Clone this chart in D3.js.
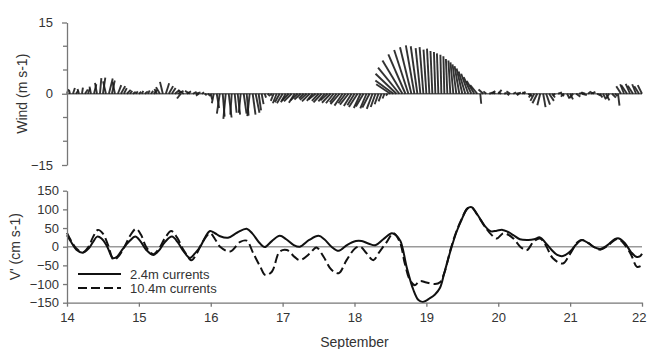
<!DOCTYPE html>
<html>
<head>
<meta charset="utf-8">
<script src="https://cdn.jsdelivr.net/npm/d3@7"></script>
<style>
  html, body { margin: 0; padding: 0; background: #fff; }
  svg { display: block; font-family: "Liberation Sans", Arial, sans-serif; }
  .axis text { fill: #333; font-size: 13px; }
  .axis path, .axis line { stroke: #777; stroke-width: 1.3; }
</style>
</head>
<body>
<svg id="chart" width="647" height="349"></svg>
<script>
// Hourly wind vectors (m/s) from 14 Sep 00:00 to 22 Sep 00:00
const windStart = 14;
const windStepDays = 1 / 24;
const windU = [
  0.3, -0.2, 0.4, 0.5, -0.3, 0.2, 0.6, 0.4, -0.3, 0.5, -0.4, 0.3,
  0.5, -0.6, 0.8, 0.6, -0.5, 0.7, 0.9, 0.6, 0.8, 0.5, 0.6, 0.4,
  0.5, 0.3, 0.6, 0.4, 0.5, 0.7, -0.5, -0.8, -0.6, 0.7, 0.9, 0.8,
  1.0, 1.2, -0.8, -1.2, 0.9, -1.0, 0.8, 1.0, -0.6, 0.5, 0.4, 0.6,
  0.3, -0.4, 0.5, -0.6, 0.4, -0.5, 0.6, -0.3, 0.4, 0.5, -0.4, 0.6,
  0.4, -0.5, 0.6, 0.8, 0.5, 0.4, 0.3, 0.5, 0.2, -0.6, -0.8, -1.0,
  -1.2, -1.0, -1.4, -1.6, -1.2, -1.5, -1.3, -1.0, -1.4, -1.6, -1.2, -1.5,
  -1.4, -1.7, -1.3, -1.5, -1.8, -1.6, -1.4, -1.9, -1.7, -1.5, -1.8, -1.6,
  -1.5, -1.8, -1.4, -1.6, -1.3, -1.5, -1.2, -1.0, -0.8, -0.6, -0.4, -0.3,
  -3.0, -3.8, -4.4, -4.5, -4.2, -3.6, -3.0, -2.4, -1.8, -1.4, -1.0, -0.8,
  -0.6, -0.5, -0.4, -0.3, -0.3, -0.2, -0.2, -0.3, -0.4, -0.6, -0.8, -1.0,
  -1.2, -1.4, -1.5, -1.6, -1.6, -1.5, 0.2, -1.0, -0.6, 0.8, 0.6, -0.5,
  0.7, -0.6, 0.5, 0.4, -0.8, 0.6, 1.0, -0.5, 0.7, -0.6, 0.8, -0.5,
  -0.8, -1.0, -0.6, 0.5, 0.8, 1.0, 0.6, -0.5, 0.8, 0.6, -0.7, 0.5,
  0.6, -0.8, 0.9, 0.7, 1.0, -0.8, 0.6, 0.9, -0.7, 0.8, 0.5, 0.6,
  0.7, -0.6, 0.8, 0.5, 0.3, -1.0, -0.8, -1.2, -0.9, -1.1, -0.8, -1.0, -0.9
];
const windV = [
  1.0, 0.8, 1.2, 0.7, 1.0, 1.3, 0.9, 1.1, 1.5, 2.0, 2.3, 3.3,
  3.4, 2.6, 3.2, 2.8, 2.5, 1.8, 1.6, 1.2, 0.8, 0.6, 0.4, 0.5,
  0.4, 0.6, 0.5, 0.7, 0.6, 0.8, 1.0, 1.4, 2.5, 2.2, 1.6, 1.2,
  0.8, 0.6, -1.0, 0.7, 0.5, 0.6, 0.4, 0.3, -0.4, 0.3, -0.3, -0.5,
  -1.2, -2.0, -3.0, -4.2, -4.8, -5.3, -5.0, -4.4, -4.0, -4.4, -4.0, -4.2,
  -4.6, -4.7, -4.4, -4.0, -3.5, -2.2, -0.8, -0.5, -0.4, -1.5, -2.0, -1.8,
  -2.0, -1.8, -1.5, -1.6, -1.9, -1.4, -1.2, -1.0, -1.3, -1.6, -1.5, -1.2,
  -1.5, -1.8, -1.6, -1.4, -1.9, -2.0, -1.8, -2.2, -2.5, -2.0, -2.3, -2.6,
  -2.4, -2.8, -3.0, -2.7, -3.1, -2.9, -3.2, -2.8, -2.2, -1.6, -1.0, -0.4,
  2.0, 2.8, 4.2, 5.5, 7.0, 8.3, 9.2, 9.8, 10.2, 10.0, 9.6, 9.8,
  9.3, 9.5, 9.0, 8.8, 8.5, 8.2, 7.9, 7.3, 7.0, 6.6, 6.2, 5.8,
  5.3, 4.7, 4.2, 3.5, 2.7, 1.8, -2.1, 0.9, 0.5, 0.3, 0.6, 0.4,
  0.8, 0.3, 0.2, -0.3, 0.5, 0.3, 0.2, -0.3, 0.4, 0.3, -0.5, -0.8,
  -1.5, -2.0, -2.4, -2.8, -2.3, -1.5, -0.8, -0.4, 0.3, -0.5, -0.6, -1.0,
  -1.2, -0.9, -0.6, 0.2, -0.3, 0.3, 0.5, 0.4, 0.3, -0.4, -0.8, -1.2,
  -1.4, -1.0, -0.8, -0.5, -2.5, 1.6, 2.0, 1.8, 2.1, 1.7, 2.0, 1.6, 1.8
];

// Along-shore current v' (cm/s), day of September
const shallowT = [
  14.00, 14.06, 14.13, 14.22, 14.30, 14.36, 14.42, 14.48, 14.56, 14.64, 14.70, 14.78,
  14.87, 14.95, 15.02, 15.10, 15.20, 15.28, 15.36, 15.46, 15.54, 15.62, 15.71, 15.78,
  15.86, 15.93, 15.99, 16.06, 16.13, 16.24, 16.37, 16.50, 16.58, 16.67, 16.75, 16.85,
  16.96, 17.05, 17.15, 17.24, 17.37, 17.50, 17.58, 17.68, 17.78, 17.90, 18.02, 18.10,
  18.20, 18.29, 18.40, 18.52, 18.58, 18.64, 18.73, 18.82, 18.89, 18.95, 19.05, 19.12,
  19.19, 19.25, 19.34, 19.42, 19.49, 19.57, 19.63, 19.70, 19.82, 19.90, 19.98, 20.06,
  20.13, 20.21, 20.30, 20.42, 20.50, 20.58, 20.65, 20.74, 20.82, 20.90, 21.00, 21.08,
  21.16, 21.25, 21.34, 21.42, 21.52, 21.62, 21.68, 21.76, 21.85, 21.92, 21.97, 22.00
];
const shallowV = [
  31, 12, -8, -16, -5, 12, 27, 22, 0, -31, -26, -5,
  15, 27, 15, -8, -22, -10, 12, 27, 12, -12, -30, -18,
  2, 28, 42, 36, 28, 24, 38, 48, 35, 12, -1, 15,
  29, 20, 5, 0, 18, 29, 20, 0, -11, 5, 15, 15,
  8, 4, 20, 36, 30, 15, -58, -116, -143, -148, -138, -128,
  -110, -70, -8, 40, 72, 102, 106, 89, 54, 41, 43, 45,
  40, 31, 20, 18, 20, 25, 12, -8, -22, -25, -13, 5,
  18, 10, -2, -6, 4, 20, 22, 10, -15, -27, -26, -19
];
const deepT = [
  14.00, 14.06, 14.13, 14.22, 14.30, 14.36, 14.43, 14.50, 14.57, 14.65, 14.72, 14.80,
  14.88, 14.96, 15.03, 15.10, 15.20, 15.28, 15.36, 15.45, 15.53, 15.62, 15.73, 15.80,
  15.88, 15.99, 16.06, 16.13, 16.27, 16.41, 16.50, 16.59, 16.69, 16.76, 16.85, 16.96,
  17.06, 17.17, 17.24, 17.38, 17.47, 17.57, 17.68, 17.78, 17.89, 18.01, 18.08, 18.17,
  18.26, 18.35, 18.45, 18.54, 18.63, 18.70, 18.77, 18.84, 18.91, 19.00, 19.12, 19.19,
  19.25, 19.34, 19.42, 19.49, 19.57, 19.63, 19.70, 19.82, 19.91, 19.98, 20.07, 20.14,
  20.21, 20.33, 20.40, 20.49, 20.58, 20.66, 20.76, 20.90, 20.99, 21.11, 21.17, 21.25,
  21.34, 21.42, 21.52, 21.62, 21.68, 21.76, 21.85, 21.93, 22.00
];
const deepV = [
  37, 15, -5, -15, 0, 25, 45, 35, 5, -35, -25, 0,
  30, 48, 32, 0, -20, -5, 22, 42, 25, -8, -36, -20,
  10, 36, 20, 0, -13, 13, 16, -17, -54, -76, -67, -13,
  -9, -28, -36, -18, -2, -27, -62, -71, -36, -4, 0, -18,
  -36, -13, 13, 36, 13, -45, -89, -103, -92, -96, -100, -95,
  -70, -5, 42, 74, 102, 105, 88, 52, 31, 22, 36, 32,
  22, -4, -9, 13, 22, 4, -31, -45, -22, 13, 18, 10,
  -2, -8, 2, 18, 20, 5, -22, -54, -50
];

const windTicks = [-15, 0, 15];
const windMinorTicks = [-10, -5, 5, 10];
const currentTicks = [-150, -100, -50, 0, 50, 100, 150];
const dayTicks = [14, 15, 16, 17, 18, 19, 20, 21, 22];
const seriesLabels = ["2.4m currents", "10.4m currents"];

const svg = d3.select("#chart");

const x = d3.scaleLinear().domain([14, 22]).range([67, 642]);
const yWind = d3.scaleLinear().domain([-15, 15]).range([165, 22.5]);
const yCur = d3.scaleLinear().domain([-150, 150]).range([302.7, 190.7]);
const pxPerMs = yWind(0) - yWind(1);

// ---- Wind stick panel ----
svg.append("line")
  .attr("x1", x(14)).attr("x2", x(22))
  .attr("y1", yWind(0)).attr("y2", yWind(0))
  .attr("stroke", "#666").attr("stroke-width", 1.6);

const sticks = windV.map((v, i) => ({ t: windStart + i * windStepDays, u: windU[i], v }));
svg.append("g").selectAll("line").data(sticks).join("line")
  .attr("x1", d => x(d.t))
  .attr("y1", yWind(0))
  .attr("x2", d => x(d.t) + d.u * pxPerMs)
  .attr("y2", d => yWind(d.v))
  .attr("stroke", "#1c1c1c")
  .attr("stroke-width", 1.9)
  .attr("stroke-opacity", 0.9);

const windAxis = svg.append("g").attr("class", "axis")
  .attr("transform", `translate(${x(14)},0)`)
  .call(d3.axisLeft(yWind).tickValues(windTicks).tickSize(5).tickSizeOuter(0).tickPadding(9));
windAxis.selectAll(".minor").data(windMinorTicks).join("line")
  .attr("class", "minor")
  .attr("x1", -4).attr("x2", 0)
  .attr("y1", d => yWind(d)).attr("y2", d => yWind(d));

svg.append("text")
  .attr("transform", `translate(22,${yWind(0)}) rotate(-90)`)
  .attr("text-anchor", "middle").attr("dy", "0.35em")
  .attr("fill", "#333").style("font-size", "14px")
  .text("Wind (m s-1)");

// ---- Current panel ----
svg.append("line")
  .attr("x1", x(14)).attr("x2", x(22))
  .attr("y1", yCur(0)).attr("y2", yCur(0))
  .attr("stroke", "#9a9a9a").attr("stroke-width", 1.5);

const line = d3.line()
  .x(d => x(d[0])).y(d => yCur(d[1]))
  .curve(d3.curveCatmullRom.alpha(0.5));

svg.append("path")
  .datum(shallowT.map((t, i) => [t, shallowV[i]]))
  .attr("d", line)
  .attr("fill", "none").attr("stroke", "#111").attr("stroke-width", 2);

svg.append("path")
  .datum(deepT.map((t, i) => [t, deepV[i]]))
  .attr("d", line)
  .attr("fill", "none").attr("stroke", "#111").attr("stroke-width", 2)
  .attr("stroke-dasharray", "9,4");

svg.append("g").attr("class", "axis")
  .attr("transform", `translate(${x(14)},0)`)
  .call(d3.axisLeft(yCur).tickValues(currentTicks).tickSize(4).tickSizeOuter(0).tickPadding(4));

const dayAxis = svg.append("g").attr("class", "axis")
  .attr("transform", `translate(0,${yCur(-150)})`)
  .call(d3.axisBottom(x).tickValues(dayTicks).tickFormat(d3.format("d")).tickSize(4).tickSizeOuter(0).tickPadding(6));
dayAxis.select(".domain").attr("stroke", "#999");
// keep the last day label inside the frame
dayAxis.selectAll(".tick text").filter(d => d === 22)
  .attr("text-anchor", "end").attr("x", 646 - x(22));

svg.append("text")
  .attr("transform", `translate(15,${yCur(0)}) rotate(-90)`)
  .attr("text-anchor", "middle").attr("dy", "0.35em")
  .attr("fill", "#333").style("font-size", "14px")
  .text("V' (cm s-1)");

svg.append("text")
  .attr("x", (x(14) + x(22)) / 2).attr("y", 342)
  .attr("text-anchor", "middle").attr("dy", "0.35em")
  .attr("fill", "#333").style("font-size", "14px")
  .text("September");

// ---- Legend ----
const legend = svg.append("g");
seriesLabels.forEach((label, i) => {
  const ly = 274 + i * 14;
  legend.append("line")
    .attr("x1", 78).attr("x2", 121).attr("y1", ly).attr("y2", ly)
    .attr("stroke", "#111").attr("stroke-width", 2)
    .attr("stroke-dasharray", i === 1 ? "9,4" : null);
  legend.append("text")
    .attr("x", 130).attr("y", ly).attr("dy", "0.35em")
    .attr("fill", "#333").style("font-size", "13px")
    .text(label);
});
</script>
</body>
</html>
